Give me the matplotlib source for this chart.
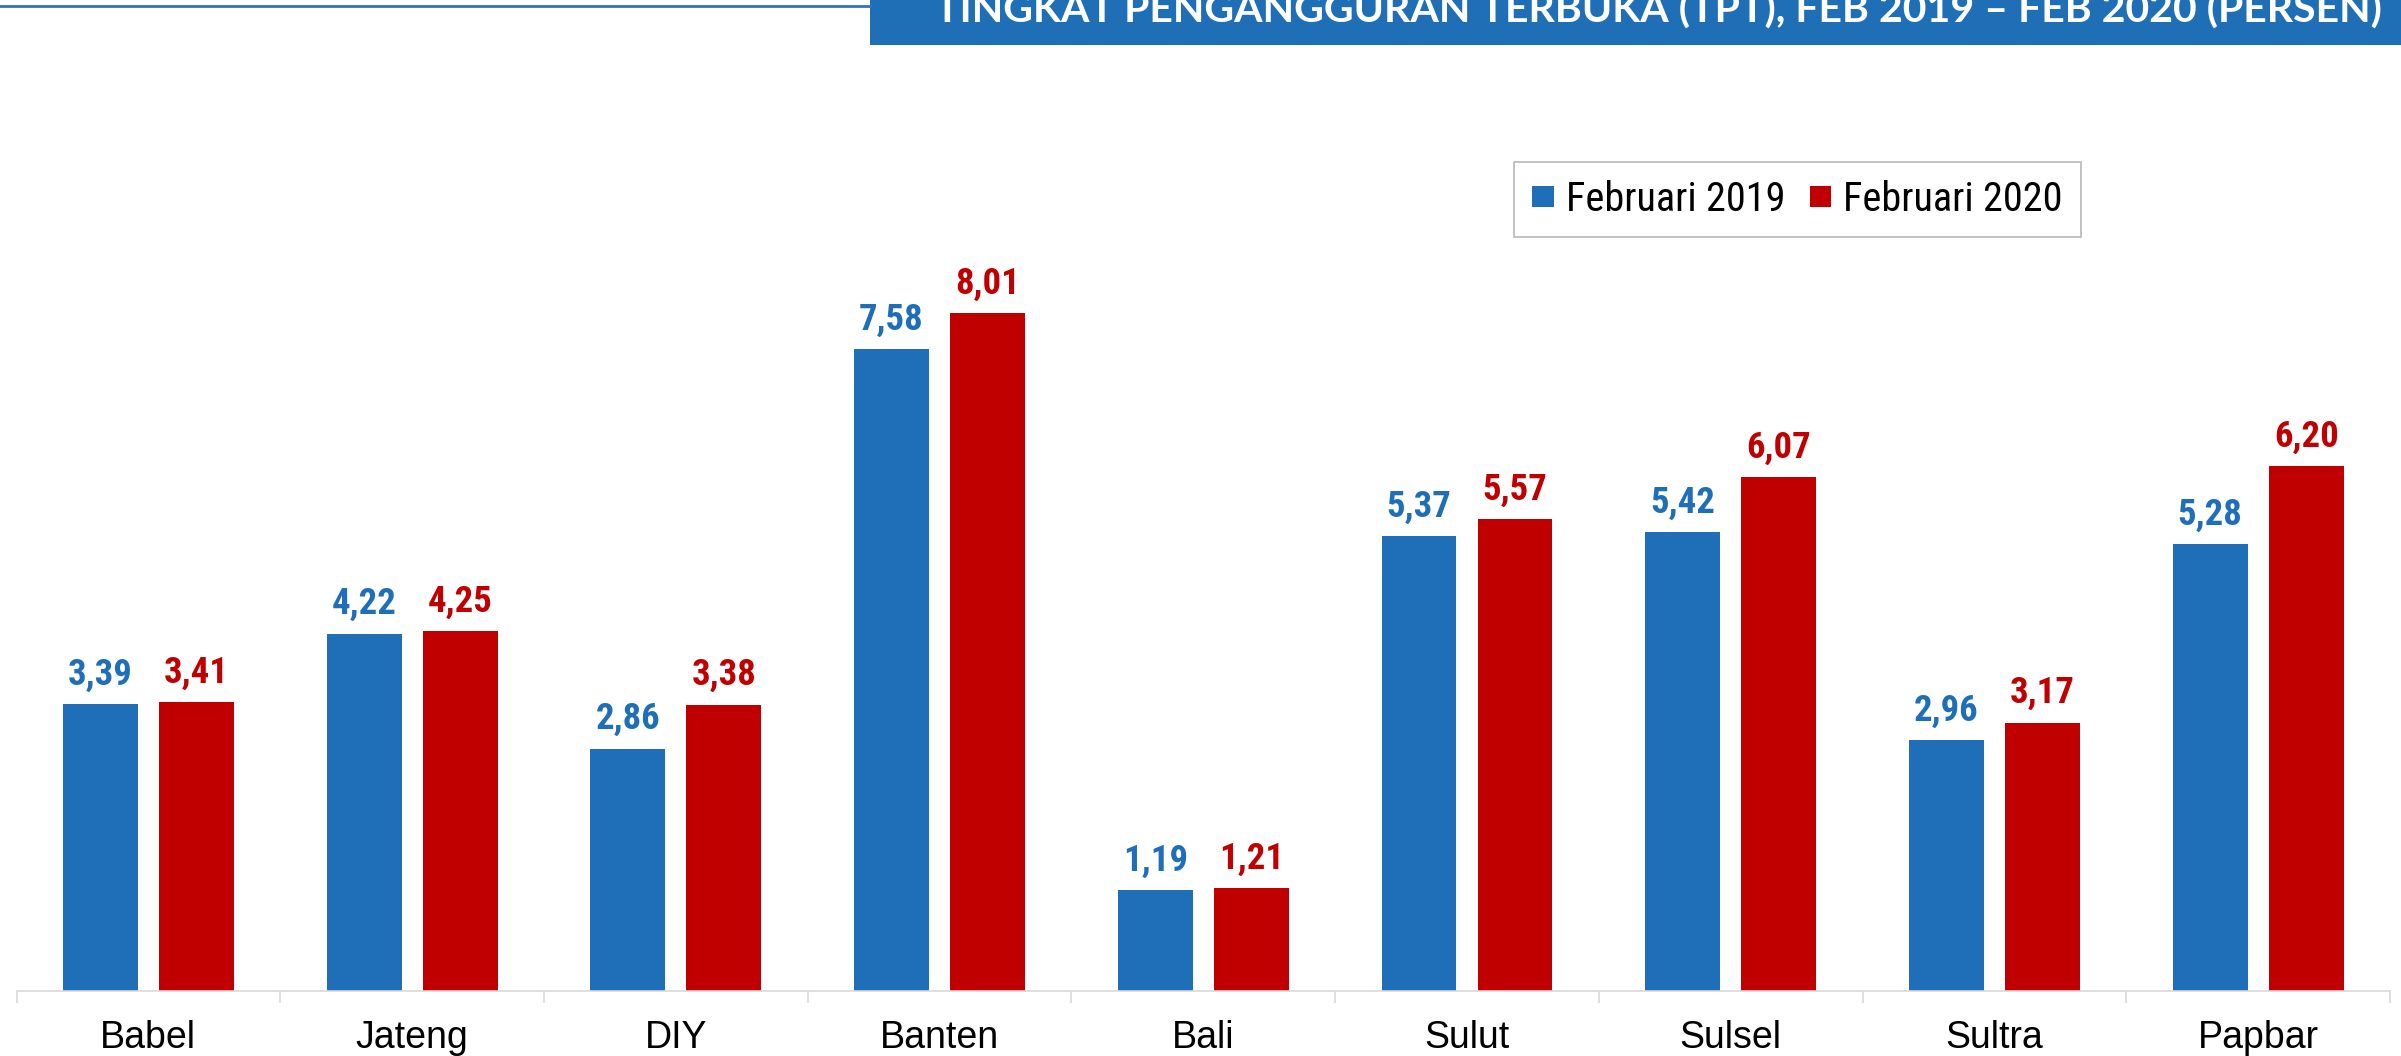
import matplotlib
matplotlib.use("Agg")
from matplotlib import pyplot as plt
from matplotlib import font_manager
from matplotlib.patches import Patch, Rectangle
from matplotlib.lines import Line2D
import numpy as np

# Open unemployment rate (TPT) by province, percent
provinces = ["Babel", "Jateng", "DIY", "Banten", "Bali", "Sulut", "Sulsel", "Sultra", "Papbar"]
feb_2019 = [3.39, 4.22, 2.86, 7.58, 1.19, 5.37, 5.42, 2.96, 5.28]
feb_2020 = [3.41, 4.25, 3.38, 8.01, 1.21, 5.57, 6.07, 3.17, 6.20]
series_names = ["Februari 2019", "Februari 2020"]
title = "TINGKAT PENGANGGURAN TERBUKA (TPT), FEB 2019 \u2013 FEB 2020 (PERSEN)"

BLUE = "#1F6FB8"
RED = "#C00000"
BANNER = "#1F6FB6"
AXIS_GREY = "#D9D9D9"

installed = {f.name for f in font_manager.fontManager.ttflist}


def pick(*names):
    for n in names:
        if n in installed:
            return n
    return "DejaVu Sans"


REGULAR = pick("Liberation Sans", "Arial")
NARROW = pick("Liberation Sans Narrow", "Arial Narrow", "Roboto Condensed", "Liberation Sans")
HEAD = pick("Lato", "Open Sans", "Noto Sans")

W, H = 2401, 1056
fig = plt.figure(figsize=(W / 100, H / 100), dpi=100)

# plot area in pixel terms: x 16.5..2390, baseline at y=990.7 from top, 84.6 px per unit
ymax = 9.0
ax = fig.add_axes([16.5 / W, (H - 990.7) / H, 2373.5 / W, ymax * 84.6 / H])

x = np.arange(len(provinces))
bw = 0.284
off = 0.182
b1 = ax.bar(x - off, feb_2019, bw, color=BLUE, zorder=2)
b2 = ax.bar(x + off, feb_2020, bw, color=RED, zorder=2)

for bars, vals, col in ((b1, feb_2019, BLUE), (b2, feb_2020, RED)):
    for rect, v in zip(bars, vals):
        ax.annotate(f"{v:.2f}".replace(".", ","),
                    (rect.get_x() + rect.get_width() / 2, v),
                    xytext=(0, 14), textcoords="offset points",
                    ha="center", va="baseline", color=col,
                    fontsize=26.5, fontweight="bold", family=NARROW)

ax.set_xlim(-0.5, len(provinces) - 0.5)
ax.set_ylim(0, ymax)
ax.set_yticks([])
for s in ("top", "right", "left"):
    ax.spines[s].set_visible(False)
ax.spines["bottom"].set_color(AXIS_GREY)
ax.spines["bottom"].set_linewidth(1.2)

ax.set_xticks(x)
ax.set_xticklabels(provinces, fontsize=27, family=REGULAR, color="black")
ax.tick_params(axis="x", which="major", length=0, pad=21)
ax.set_xticks(np.arange(len(provinces) + 1) - 0.5, minor=True)
ax.tick_params(axis="x", which="minor", length=8.6, width=1.2, color=AXIS_GREY)

handles = [Patch(facecolor=BLUE, edgecolor="none"), Patch(facecolor=RED, edgecolor="none")]
leg = fig.legend(handles, series_names, loc="upper right",
                 bbox_to_anchor=(2081 / W, 1 - 161.7 / H), ncol=2,
                 prop={"family": NARROW, "size": 29}, frameon=True, fancybox=False,
                 edgecolor="#A6A6A6", handlelength=0.54, handleheight=0.45,
                 handletextpad=0.3, columnspacing=0.6, borderpad=0.45,
                 borderaxespad=0)
leg.get_frame().set_linewidth(1.2)

# header: thin rule on the left, blue banner with white title on the right
fig.add_artist(Line2D([0, 870 / W], [1 - 6.3 / H] * 2, color="#2F74B5", lw=2.0,
                      transform=fig.transFigure))
fig.add_artist(Rectangle((870 / W, 1 - 44.7 / H), 1 - 870 / W, 44.7 / H,
                         facecolor=BANNER, edgecolor="none", transform=fig.transFigure))
fig.text(935 / W, 1 - 22.7 / H, title, color="white", fontsize=29.5,
         fontweight="bold", family=HEAD, ha="left", va="baseline")

fig.savefig("out.png", dpi=100)
